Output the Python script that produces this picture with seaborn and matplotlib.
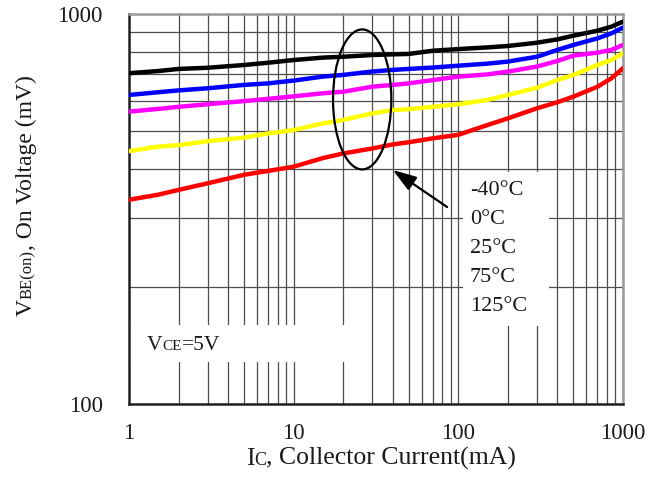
import numpy as np
import pandas as pd
import matplotlib
matplotlib.use("Agg")
import matplotlib.pyplot as plt
import seaborn as sns
from matplotlib.patches import Ellipse, Rectangle
from matplotlib.ticker import LogLocator, NullFormatter, FixedLocator, FixedFormatter
from matplotlib.transforms import IdentityTransform

# Collector current (mA) and base-emitter on-voltage (mV) per temperature
currents = [1, 1.5, 2, 3, 5, 7, 10, 15, 20, 30, 40, 50, 70, 100, 150, 200, 300, 400, 500, 700, 850, 1000]
vbe_m40 = [705, 714, 723, 728, 740, 750, 762, 773, 777, 785, 788, 790, 805, 813, 821, 828, 844, 861, 880, 906, 928, 956]
vbe_0 = [620, 630, 637, 645, 658, 664, 675, 691, 698, 712, 719, 723, 729, 737, 746, 755, 777, 809, 833, 866, 892, 923]
vbe_25 = [562, 571, 578, 587, 598, 606, 615, 626, 632, 651, 658, 664, 677, 691, 700, 712, 733, 758, 782, 796, 809, 833]
vbe_75 = [445, 457, 461, 472, 482, 494, 504, 524, 535, 556, 567, 570, 578, 587, 602, 620, 647, 677, 698, 740, 762, 793]
vbe_125 = [334, 344, 354, 368, 387, 396, 406, 427, 439, 452, 463, 469, 480, 490, 519, 540, 573, 594, 614, 651, 684, 726]

temps = ["-40°C", "0°C", "25°C", "75°C", "125°C"]
colors = ["#000000", "#0000ff", "#ff00ff", "#ffff00", "#ff0000"]

x_ticks = [1, 10, 100, 1000]
x_tick_labels = ["1", "10", "100", "1000"]
y_ticks = [100, 1000]
y_tick_labels = ["100", "1000"]

sns.set_theme(style="white")
plt.rcParams["font.family"] = ["Liberation Serif", "DejaVu Serif"]
TEXT = "#1a1a1a"

rows = []
for t, vals in zip(temps, [vbe_m40, vbe_0, vbe_25, vbe_75, vbe_125]):
    for c, v in zip(currents, vals):
        rows.append({"Ic": c, "Vbe": v, "Temperature": t})
df = pd.DataFrame(rows)

W, H = 656, 483
fig = plt.figure(figsize=(W / 100, H / 100), dpi=100)
ax = fig.add_axes([129 / W, 1 - 404 / H, 494 / W, 390 / H])

sns.lineplot(data=df, x="Ic", y="Vbe", hue="Temperature", hue_order=temps,
             palette=dict(zip(temps, colors)), estimator=None, lw=3.2,
             legend=False, ax=ax, zorder=3)

ax.set_xscale("log")
ax.set_yscale("log")
ax.set_xlim(1, 1000)
ax.set_ylim(100, 1000)
ax.set_xlabel("")
ax.set_ylabel("")

for axis, ticks, labels in [(ax.xaxis, x_ticks, x_tick_labels), (ax.yaxis, y_ticks, y_tick_labels)]:
    axis.set_major_locator(FixedLocator(ticks))
    axis.set_major_formatter(FixedFormatter(labels))
    axis.set_minor_locator(LogLocator(base=10, subs=np.arange(2, 10)))
    axis.set_minor_formatter(NullFormatter())

ax.set_axisbelow(True)
ax.grid(True, which="both", color="#4d4d4d", lw=0.9)
ax.tick_params(which="major", direction="in", length=4, width=1.5, color="black",
               labelsize=16.5, labelcolor=TEXT)
ax.tick_params(which="minor", length=0)
ax.tick_params(axis="x", pad=14)
ax.tick_params(axis="y", pad=19)

for s in ["left", "bottom"]:
    ax.spines[s].set(color="#222222", lw=1.8)
for s in ["top", "right"]:
    ax.spines[s].set(color="#9a9a9a", lw=1.8)

# white panels behind the annotation texts
ax.add_patch(Rectangle((0.0, 0.108), 0.468, 0.095, transform=ax.transAxes,
                       fc="white", ec="none", zorder=1))
ax.add_patch(Rectangle((0.676, 0.2), 0.174, 0.395, transform=ax.transAxes,
                       fc="white", ec="none", zorder=1))

# temperature labels
label_y = [0.536, 0.4615, 0.387, 0.313, 0.238]
for t, yy in zip(temps, label_y):
    ax.text(0.690, yy, t, transform=ax.transAxes, fontsize=16, color=TEXT,
            ha="left", va="baseline", zorder=5)

# ellipse grouping the curves and the pointer to the labels
ax.add_patch(Ellipse((0.472, 0.781), 0.118, 0.359, transform=ax.transAxes,
                     fill=False, ec="black", lw=1.6, zorder=4))
ax.annotate("", xy=(0.534, 0.600), xycoords="axes fraction",
            xytext=(0.644, 0.505), textcoords="axes fraction",
            arrowprops=dict(arrowstyle="-|>,head_length=0.9,head_width=0.3",
                            lw=1.6, color="black", mutation_scale=16,
                            shrinkA=0, shrinkB=0), zorder=5)


def rich_text(pieces, x, y, rotation=0, center=False):
    """Place text pieces of different sizes on one shared baseline (pixel coords)."""
    renderer = fig.canvas.get_renderer()
    arts = [fig.text(0, 0, s, transform=IdentityTransform(), fontsize=size,
                     rotation=rotation, rotation_mode="anchor", ha="left",
                     va="baseline", color=TEXT) for s, size in pieces]
    lens = []
    for t in arts:
        bb = t.get_window_extent(renderer)
        lens.append(bb.height if rotation == 90 else bb.width)
    pos = -sum(lens) / 2 if center else 0
    for t, L in zip(arts, lens):
        t.set_position((x, y + pos) if rotation == 90 else (x + pos, y))
        pos += L


rich_text([("V", 17), ("BE(on)", 12), (", On Voltage (mV)", 17)],
          32, H - 196, rotation=90, center=True)
rich_text([("I", 18.5), ("C", 13), (", Collector Current(mA)", 18.5)],
          381, H - 465, center=True)
rich_text([("V", 15.5), ("CE", 11), ("=5V", 15.5)], 147, H - 350.5)

fig.savefig("out.png", dpi=100, facecolor="white")
